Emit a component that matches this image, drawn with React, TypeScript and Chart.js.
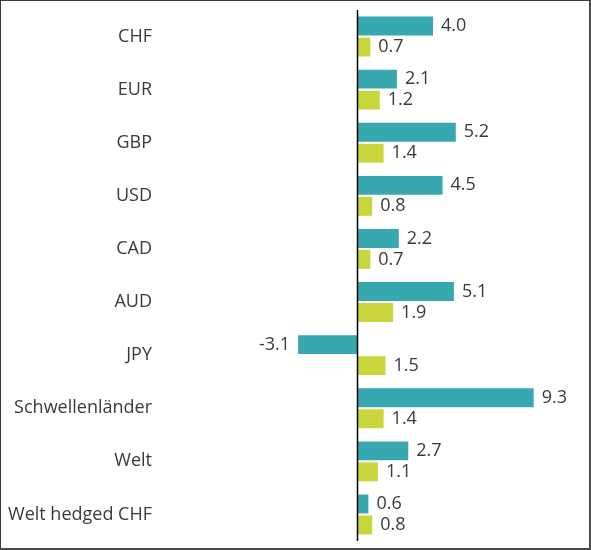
import React, { useEffect, useRef } from "react";
import { Chart, registerables } from "chart.js";

Chart.register(...registerables);

const categories = [
  "CHF",
  "EUR",
  "GBP",
  "USD",
  "CAD",
  "AUD",
  "JPY",
  "Schwellenländer",
  "Welt",
  "Welt hedged CHF",
];
const series1 = [4.0, 2.1, 5.2, 4.5, 2.2, 5.1, -3.1, 9.3, 2.7, 0.6];
const series2 = [0.7, 1.2, 1.4, 0.8, 0.7, 1.9, 1.5, 1.4, 1.1, 0.8];
const seriesNames = ["Serie 1", "Serie 2"];
const seriesColors = ["#38a8b0", "#c8d63c"];

const FONT = "'Open Sans', 'Noto Sans', sans-serif";
const TEXT = "#3a3a3a";

const zeroLinePlugin = {
  id: "zeroLine",
  afterDatasetsDraw(chart: any) {
    const { ctx, chartArea, scales } = chart;
    const x = Math.round(scales.x.getPixelForValue(0)) + 0.5;
    ctx.save();
    ctx.strokeStyle = "#000000";
    ctx.lineWidth = 1.5;
    ctx.beginPath();
    ctx.moveTo(x, chartArea.top);
    ctx.lineTo(x, chartArea.bottom);
    ctx.stroke();
    ctx.restore();
  },
};

const valueLabelPlugin = {
  id: "valueLabels",
  afterDatasetsDraw(chart: any) {
    const { ctx } = chart;
    ctx.save();
    ctx.font = `18px ${FONT}`;
    ctx.fillStyle = TEXT;
    ctx.textBaseline = "middle";
    chart.data.datasets.forEach((ds: any, di: number) => {
      const meta = chart.getDatasetMeta(di);
      meta.data.forEach((bar: any, i: number) => {
        const v = ds.data[i];
        const txt = v.toFixed(1);
        if (v < 0) {
          ctx.textAlign = "right";
          ctx.fillText(txt, bar.x - 8, bar.y);
        } else {
          ctx.textAlign = "left";
          ctx.fillText(txt, bar.x + 8, bar.y);
        }
      });
    });
    ctx.restore();
  },
};

export default function App() {
  const canvasRef = useRef<HTMLCanvasElement | null>(null);

  useEffect(() => {
    document.body.style.margin = "0";
    const canvas = canvasRef.current;
    if (!canvas) return;
    const chart = new Chart(canvas, {
      type: "bar",
      data: {
        labels: categories,
        datasets: [
          {
            label: seriesNames[0],
            data: series1,
            backgroundColor: seriesColors[0],
            barPercentage: 0.9,
            categoryPercentage: 0.79,
          },
          {
            label: seriesNames[1],
            data: series2,
            backgroundColor: seriesColors[1],
            barPercentage: 0.9,
            categoryPercentage: 0.79,
          },
        ],
      },
      options: {
        indexAxis: "y",
        responsive: false,
        animation: false,
        devicePixelRatio: 1,
        layout: { padding: { top: 10, bottom: 9, left: 0, right: 25 } },
        plugins: {
          legend: { display: false },
          tooltip: { enabled: false },
        },
        scales: {
          x: {
            display: false,
            min: -10,
            max: 11,
          },
          y: {
            grid: { display: false, drawTicks: false },
            border: { display: false },
            ticks: {
              padding: 15,
              color: TEXT,
              font: { family: FONT, size: 18 },
            },
            afterFit(scale: any) {
              scale.width = 167;
              scale.paddingTop = 0;
              scale.paddingBottom = 0;
            },
          },
        },
      },
      plugins: [zeroLinePlugin, valueLabelPlugin],
    });
    return () => chart.destroy();
  }, []);

  return (
    <div
      style={{
        position: "relative",
        width: 591,
        height: 550,
        background: "#ffffff",
        fontFamily: FONT,
      }}
    >
      <canvas ref={canvasRef} width={591} height={550} style={{ display: "block" }} />
      <div
        style={{
          position: "absolute",
          left: 0,
          top: 0,
          width: 591,
          height: 550,
          boxSizing: "border-box",
          borderLeft: "1px solid #3c3c3c",
          borderTop: "1px solid #3c3c3c",
          borderRight: "2px solid #4a4a4a",
          borderBottom: "2px solid #4a4a4a",
          pointerEvents: "none",
        }}
      />
    </div>
  );
}
